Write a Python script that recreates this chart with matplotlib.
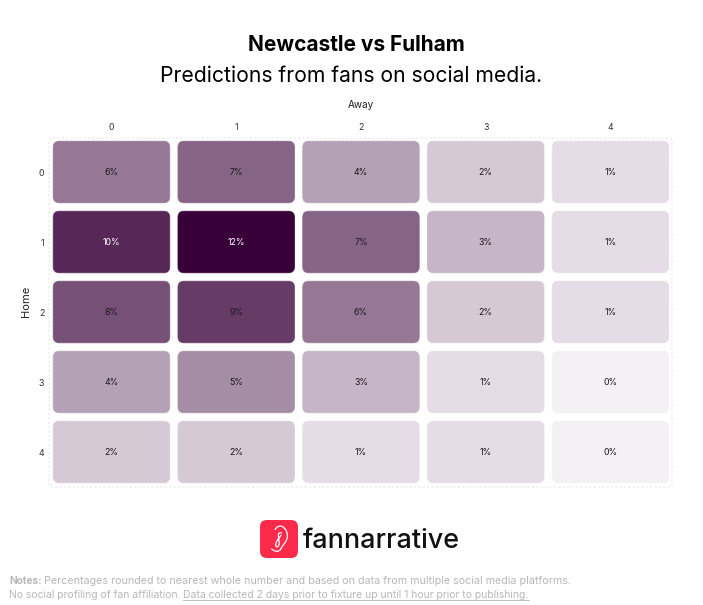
import matplotlib
matplotlib.use("Agg")
import matplotlib.pyplot as plt
from matplotlib.patches import FancyBboxPatch, PathPatch
from matplotlib.path import Path
from matplotlib.colors import LinearSegmentedColormap

plt.rcParams['font.family'] = ['Inter', 'DejaVu Sans']

home_goals = [0, 1, 2, 3, 4]
away_goals = [0, 1, 2, 3, 4]
pct = [
    [6, 7, 4, 2, 1],
    [10, 12, 7, 3, 1],
    [8, 9, 6, 2, 1],
    [4, 5, 3, 1, 0],
    [2, 2, 1, 1, 0],
]
title = "Newcastle vs Fulham"
subtitle = "Predictions from fans on social media."
notes_bold = "Notes:"
notes_1 = "Percentages rounded to nearest whole number and based on data from multiple social media platforms."
notes_2a = "No social profiling of fan affiliation. "
notes_2b = "Data collected 2 days prior to fixture up until 1 hour prior to publishing."

W, H = 703, 605
fig = plt.figure(figsize=(W / 100, H / 100), dpi=100, facecolor='white')
cmap = LinearSegmentedColormap.from_list('fan', ['#f4f1f5', '#380038'])

pg = fig.add_axes([0, 0, 1, 1], zorder=0)
pg.set_xlim(0, W)
pg.set_ylim(H, 0)
pg.axis('off')

L, T, CW, CH = 49.1, 137, 124.75, 70
ax = fig.add_axes([L / W, 1 - (T + 5 * CH) / H, 5 * CW / W, 5 * CH / H], zorder=1)
ax.set_facecolor('none')
ax.set_xlim(-0.5, 4.5)
ax.set_ylim(4.5, -0.5)
for s in ax.spines.values():
    s.set_visible(False)
ax.xaxis.tick_top()
ax.xaxis.set_label_position('top')
ax.set_xticks(away_goals, [str(a) for a in away_goals])
ax.set_yticks(home_goals, [str(h) for h in home_goals])
ax.tick_params(length=0, labelsize=6.3, labelcolor='#333333', pad=3.5)
ax.tick_params(axis='y', pad=3.5)
ax.set_xlabel('Away', fontsize=7.2, color='#222222', labelpad=11)
ax.set_ylabel('Home', fontsize=8, color='#222222')
ax.yaxis.set_label_coords(-0.029, 0.53)

asp = CW / CH
w_cell, h_cell = 116.5 / CW, 61.5 / CH
for i, h in enumerate(home_goals):
    for j, a in enumerate(away_goals):
        v = pct[i][j]
        c = cmap(v / 12)
        ax.add_patch(FancyBboxPatch((a - w_cell / 2, h - h_cell / 2), w_cell, h_cell,
                                    boxstyle=f"round,pad=0,rounding_size={6 / CW}",
                                    mutation_aspect=asp, fc=c, ec=(c[0], c[1], c[2], 0.75), lw=0.7))
        ax.text(a, h + 0.012, f"{v}%", ha='center', va='center', fontsize=6.3,
                color='white' if v >= 10 else '#1a1a1a')

pg.add_patch(FancyBboxPatch((49, 138), 623, 349, boxstyle="round,pad=0,rounding_size=4",
                            fc='none', ec='#e6e6e6', lw=0.7, ls=(0, (2.5, 2))))

pg.text(356, 45, title, ha='center', va='center', fontsize=15, fontweight='bold', color='black')
pg.text(351.5, 76, subtitle, ha='center', va='center', fontsize=15.2, color='black')


def smooth(pts):
    verts = [pts[0]]
    codes = [Path.MOVETO]
    for k in range(1, len(pts) - 1):
        mid = ((pts[k][0] + pts[k + 1][0]) / 2, (pts[k][1] + pts[k + 1][1]) / 2)
        verts += [pts[k], mid]
        codes += [Path.CURVE3, Path.CURVE3]
    verts.append(pts[-1])
    codes.append(Path.LINETO)
    return Path(verts, codes)


pg.add_patch(FancyBboxPatch((260, 520), 38, 38, boxstyle="round,pad=0,rounding_size=7",
                            fc='#fb2a4b', ec='none'))
outer = [(271.3, 548.7), (274, 551.3), (279.7, 551.3), (282, 546.3), (286.3, 541.3),
         (288, 534.7), (284.7, 527.3), (278.7, 525.3), (274.7, 529.7)]
inner = [(282, 533), (279, 532), (278, 536), (279.7, 543), (278, 547.3),
         (275.3, 546.3), (276.3, 541.3), (281.3, 535)]
for pts in (outer, inner):
    pg.add_patch(PathPatch(smooth(pts), fc='none', ec='white', lw=0.9))
pg.text(303, 540.5, "fannarrative", ha='left', va='center', fontsize=19.4, fontweight='medium', color='#111111')

grey = '#b8b8b8'
r = fig.canvas.get_renderer()
pg.text(9, 581, notes_bold, ha='left', va='center', fontsize=7.3, fontweight='bold', color=grey)
pg.text(44, 581, notes_1, ha='left', va='center', fontsize=7.73, color=grey)
pg.text(9, 595.5, notes_2a, ha='left', va='center', fontsize=7.5, color=grey)
x2 = 183
t3 = pg.text(x2, 595.5, notes_2b, ha='left', va='center', fontsize=7.5, color=grey)
e3 = t3.get_window_extent(r)
pg.plot([x2, e3.x1], [600, 600], color=grey, lw=0.6)

fig.savefig('out.png', dpi=100, facecolor='white')
